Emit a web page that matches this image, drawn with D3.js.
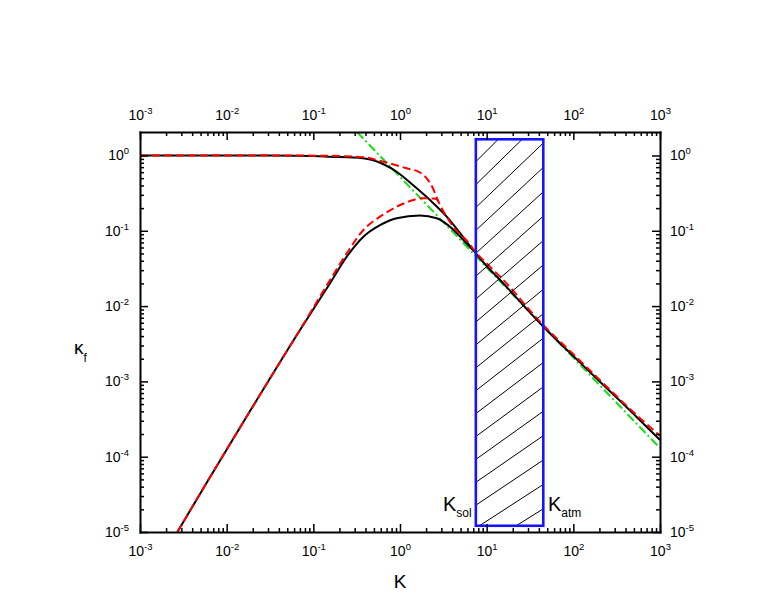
<!DOCTYPE html>
<html>
<head>
<meta charset="utf-8">
<script src="https://cdn.jsdelivr.net/npm/d3@7"></script>
<style>
  body { margin: 0; background: #fff; }
  svg { font-family: "Liberation Sans", Arial, sans-serif; }
</style>
</head>
<body>
<svg id="chart" width="763" height="599"></svg>
<script>
// tick decades
const kDecades = [1e-3, 1e-2, 1e-1, 1e0, 1e1, 1e2, 1e3];
const kappaDecades = [1e-5, 1e-4, 1e-3, 1e-2, 1e-1, 1e0];

// black solid, upper branch
const blackUpperK = [0.001, 0.01, 0.0316, 0.1, 0.156, 0.374, 0.637, 0.923, 1.41, 2.22, 3.48, 4.92, 6.95, 10, 14.3, 45.1, 130, 378, 1000];
const blackUpperKappa = [1.0, 1.0, 0.998, 0.985, 0.964, 0.92, 0.771, 0.604, 0.406, 0.256, 0.153, 0.0935, 0.0556, 0.0341, 0.0222, 0.00532, 0.00162, 0.0005, 0.000167];

// black solid, lower branch
const blackLowerK = [0.0027, 0.00614, 0.0186, 0.0702, 0.156, 0.243, 0.378, 0.588, 0.916, 1.70, 2.65, 3.78, 5.37, 6.95];
const blackLowerKappa = [1e-5, 4.91e-5, 4.04e-4, 4.82e-3, 0.0201, 0.0453, 0.0835, 0.119, 0.147, 0.159, 0.147, 0.113, 0.0755, 0.0556];

// red dashed, upper branch
const redUpperK = [0.001, 0.01, 0.1, 0.156, 0.374, 0.643, 1.19, 1.70, 2.03, 2.42, 2.65, 2.90, 3.46, 4.51, 5.88, 7.67, 10.9, 15.6, 41.2, 100, 243, 588, 1000];
const redUpperKappa = [1.0, 1.0, 0.995, 0.99, 0.95, 0.827, 0.676, 0.594, 0.498, 0.359, 0.275, 0.220, 0.153, 0.0994, 0.0743, 0.0502, 0.0334, 0.0222, 0.00621, 0.0023, 0.00085, 0.000325, 0.00019];

// red dashed, lower branch
const redLowerK = [0.0027, 0.00614, 0.0186, 0.0702, 0.156, 0.243, 0.378, 0.588, 0.916, 1.43, 1.70, 2.03, 2.42, 2.65, 2.90];
const redLowerKappa = [1e-5, 4.91e-5, 4.04e-4, 4.85e-3, 0.0222, 0.0502, 0.1025, 0.154, 0.209, 0.256, 0.270, 0.270, 0.268, 0.262, 0.220];

// green dash-dot asymptote
const asymK = [0.319, 1000];
const asymKappa = [2.05, 1.3e-4];

// hatched range K_sol .. K_atm
const boxK = [7.5, 45];
const boxKappa = [1.21e-5, 1.64];

const svg = d3.select('#chart');
const font = '"Liberation Sans", Arial, sans-serif';

const x = d3.scaleLog().domain([1e-3, 1e3]).range([140, 660]);
const y = d3.scaleLog().domain([1e-5, 2.05]).range([532, 132]);

const minorK = x.ticks().filter(d => !kDecades.some(v => Math.abs(d / v - 1) < 1e-6));
const minorKappa = y.ticks().filter(d => d < 1.5 && !kappaDecades.some(v => Math.abs(d / v - 1) < 1e-6));

svg.append('defs').append('clipPath').attr('id', 'plot')
  .append('rect').attr('x', 140).attr('y', 132).attr('width', 520).attr('height', 400);

const line = d3.line()
  .x(d => x(d[0]))
  .y(d => y(d[1]))
  .curve(d3.curveMonotoneX);

const curves = svg.append('g').attr('clip-path', 'url(#plot)');

curves.append('path')
  .datum(d3.zip(asymK, asymKappa))
  .attr('d', line)
  .attr('fill', 'none')
  .attr('stroke', '#18dd18')
  .attr('stroke-width', 2)
  .attr('stroke-dasharray', '9,3,2,3');

curves.append('path')
  .datum(d3.zip(blackUpperK, blackUpperKappa))
  .attr('d', line)
  .attr('fill', 'none')
  .attr('stroke', '#000')
  .attr('stroke-width', 2);

curves.append('path')
  .datum(d3.zip(blackLowerK, blackLowerKappa))
  .attr('d', line)
  .attr('fill', 'none')
  .attr('stroke', '#000')
  .attr('stroke-width', 2);

curves.append('path')
  .datum(d3.zip(redUpperK, redUpperKappa))
  .attr('d', line)
  .attr('fill', 'none')
  .attr('stroke', '#ff0000')
  .attr('stroke-width', 2)
  .attr('stroke-dasharray', '8,4');

curves.append('path')
  .datum(d3.zip(redLowerK, redLowerKappa))
  .attr('d', line)
  .attr('fill', 'none')
  .attr('stroke', '#ff0000')
  .attr('stroke-width', 2)
  .attr('stroke-dasharray', '8,4');

// box with hatching
const bx0 = x(boxK[0]), bx1 = x(boxK[1]);
const by0 = y(boxKappa[1]), by1 = y(boxKappa[0]);

svg.select('defs').append('clipPath').attr('id', 'box')
  .append('rect').attr('x', bx0).attr('y', by0).attr('width', bx1 - bx0).attr('height', by1 - by0);

const hatch = svg.append('g').attr('clip-path', 'url(#box)');
const gap = 22.9;
const first = by0 + 22.4;
// the hatch gets a bit flatter towards the bottom, as in the original
for (let yl = first - gap; yl < by1 + 3 * gap; yl += gap) {
  const s = 1 - 0.33 * (yl - first) / 343;
  hatch.append('line')
    .attr('x1', bx0).attr('y1', yl)
    .attr('x2', bx1).attr('y2', yl - s * (bx1 - bx0))
    .attr('stroke', '#000')
    .attr('stroke-width', 1);
}

svg.append('rect')
  .attr('x', bx0).attr('y', by0)
  .attr('width', bx1 - bx0).attr('height', by1 - by0)
  .attr('fill', 'none')
  .attr('stroke', '#1414ff')
  .attr('stroke-width', 2.6);

// axes
function superscript(g) {
  g.selectAll('.tick text').each(function(d) {
    const t = d3.select(this).text(null)
      .attr('font-size', 14)
      .attr('font-family', font)
      .attr('fill', '#000');
    t.append('tspan').text('10');
    t.append('tspan').attr('dy', -6).attr('font-size', 9.5).text(Math.round(Math.log10(d)));
  });
}

function styleAxis(g) {
  g.select('.domain').attr('stroke-width', 2).attr('stroke-linecap', 'square');
  g.selectAll('.tick line').attr('stroke-width', 1.5);
}

function minorAxis(g) {
  g.select('.domain').remove();
  g.selectAll('.tick line').attr('stroke-width', 1.5);
}

svg.append('g').attr('transform', 'translate(0,532)')
  .call(d3.axisBottom(x).tickValues(kDecades).tickSize(-8).tickSizeOuter(0).tickPadding(14))
  .call(styleAxis).call(superscript);
svg.append('g').attr('transform', 'translate(0,532)')
  .call(d3.axisBottom(x).tickValues(minorK).tickSize(-4).tickFormat(() => ''))
  .call(minorAxis);

svg.append('g').attr('transform', 'translate(0,132)')
  .call(d3.axisTop(x).tickValues(kDecades).tickSize(-8).tickSizeOuter(0).tickPadding(12))
  .call(styleAxis).call(superscript);
svg.append('g').attr('transform', 'translate(0,132)')
  .call(d3.axisTop(x).tickValues(minorK).tickSize(-4).tickFormat(() => ''))
  .call(minorAxis);

svg.append('g').attr('transform', 'translate(140,0)')
  .call(d3.axisLeft(y).tickValues(kappaDecades).tickSize(-8).tickSizeOuter(0).tickPadding(11))
  .call(styleAxis).call(superscript);
svg.append('g').attr('transform', 'translate(140,0)')
  .call(d3.axisLeft(y).tickValues(minorKappa).tickSize(-4).tickFormat(() => ''))
  .call(minorAxis);

svg.append('g').attr('transform', 'translate(660,0)')
  .call(d3.axisRight(y).tickValues(kappaDecades).tickSize(-8).tickSizeOuter(0).tickPadding(10))
  .call(styleAxis).call(superscript);
svg.append('g').attr('transform', 'translate(660,0)')
  .call(d3.axisRight(y).tickValues(minorKappa).tickSize(-4).tickFormat(() => ''))
  .call(minorAxis);

// titles
svg.append('text')
  .attr('x', 400).attr('y', 588)
  .attr('text-anchor', 'middle')
  .attr('font-size', 19)
  .text('K');

const yt = svg.append('text').attr('x', 74).attr('y', 354).attr('font-size', 19);
yt.append('tspan').text('κ');
yt.append('tspan').attr('dy', 8).attr('font-size', 12).text('f');

const ks = svg.append('text').attr('x', 443).attr('y', 511).attr('font-size', 20);
ks.append('tspan').text('K');
ks.append('tspan').attr('dy', 6).attr('font-size', 12).text('sol');

const ka = svg.append('text').attr('x', 548).attr('y', 511).attr('font-size', 20);
ka.append('tspan').text('K');
ka.append('tspan').attr('dy', 6).attr('font-size', 12).text('atm');
</script>
</body>
</html>
